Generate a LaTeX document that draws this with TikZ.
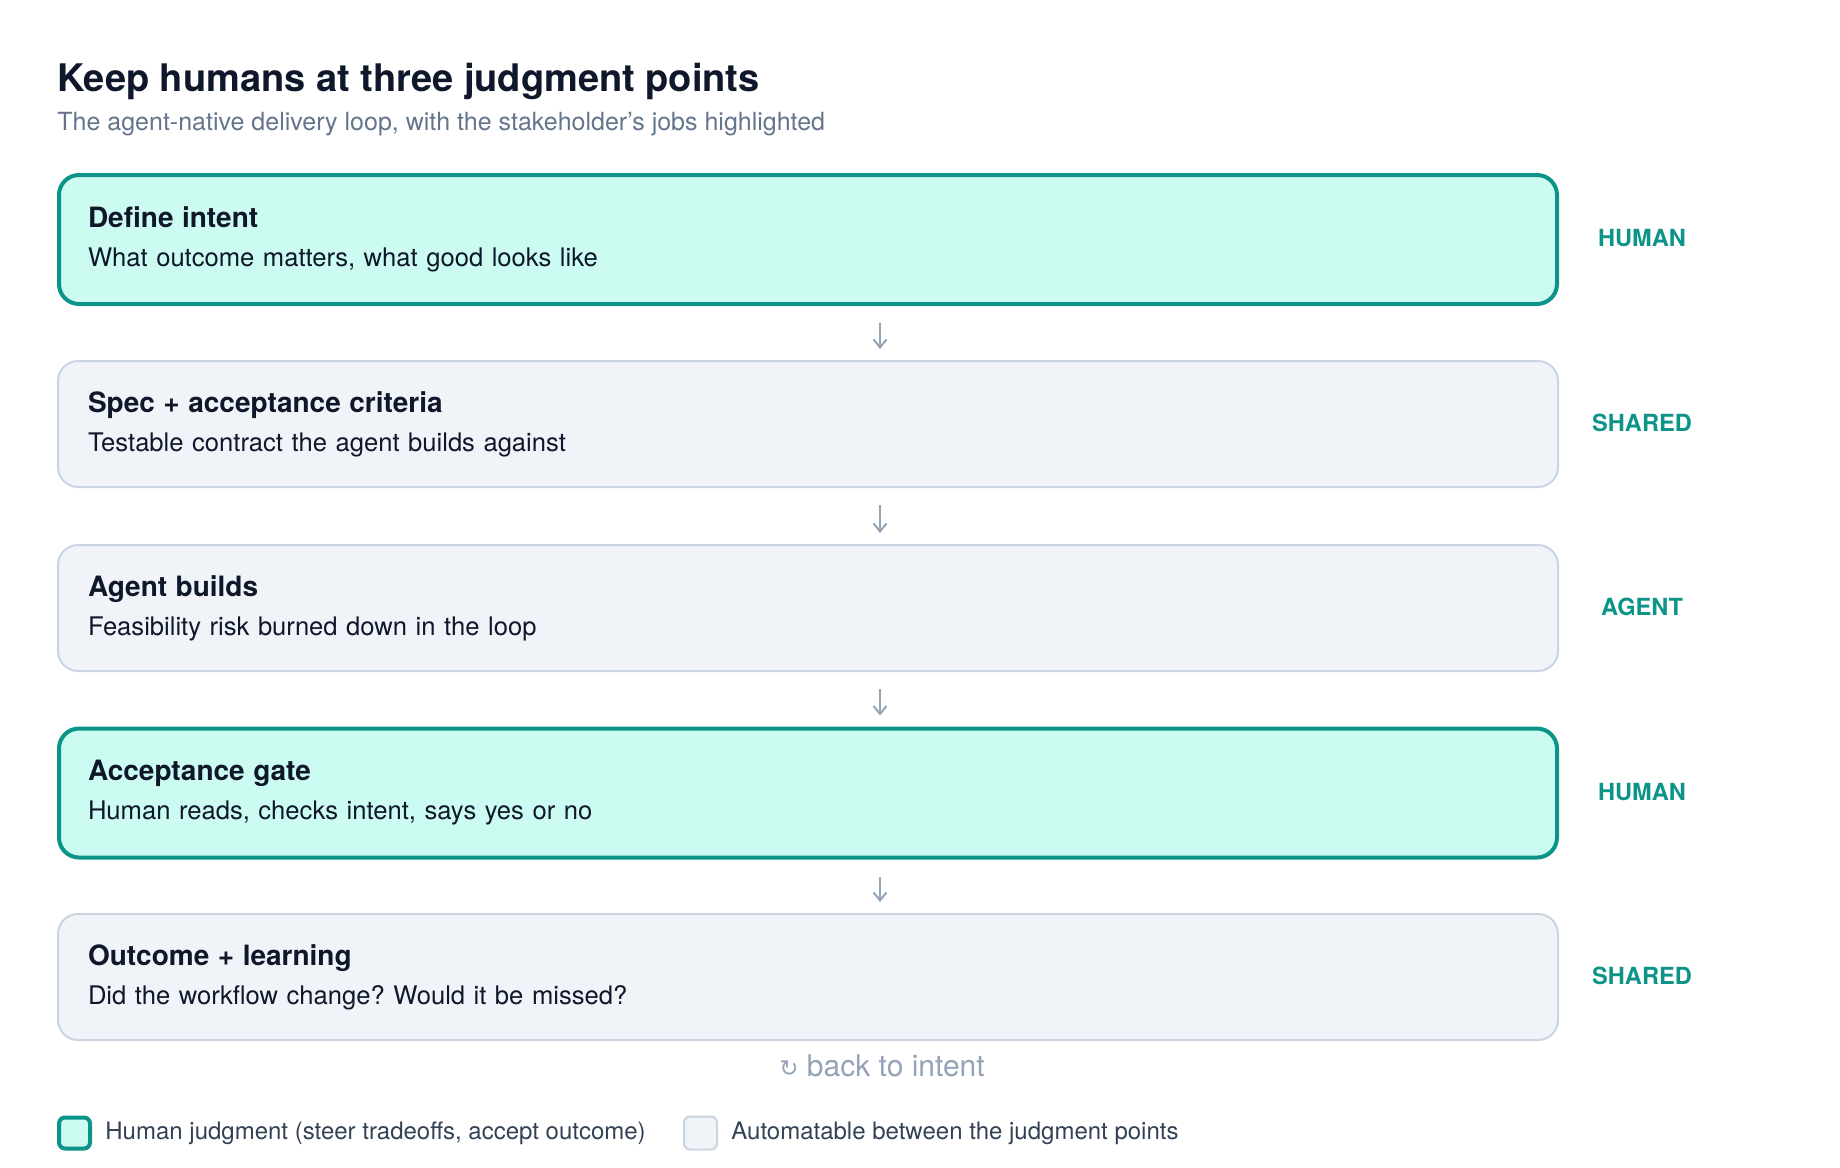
\documentclass[tikz,border=0pt]{standalone}
\usepackage{fontspec}
\setmainfont{TeX Gyre Heros}
\newfontfamily\glyphfont{DejaVu Sans}
\usetikzlibrary{positioning,arrows.meta}

\definecolor{judgeteal}{HTML}{0D9488}
\definecolor{judgefill}{HTML}{CCFBF1}
\definecolor{autofill}{HTML}{F0F4F9}
\definecolor{autoline}{HTML}{CBD5E1}
\definecolor{inkdark}{HTML}{0F172A}
\definecolor{inkgrey}{HTML}{64748B}
\definecolor{flowgrey}{HTML}{94A3B8}
\definecolor{legendink}{HTML}{334155}

\newcommand{\stagehead}[1]{{\bfseries\fontsize{14pt}{19.5pt}\selectfont #1}}

\begin{document}
\frenchspacing
\begin{tikzpicture}[x=0.5pt,y=-0.5pt,
    stagebox/.style={rounded corners=10pt, minimum width=750pt,
        text width=720pt, inner xsep=14.5pt, inner ysep=0pt, align=left, text=inkdark,
        font=\fontsize{12.8pt}{19.5pt}\selectfont},
    humanbox/.style={stagebox, draw=judgeteal, line width=2pt, fill=judgefill,
        minimum width=749pt, minimum height=64.5pt},
    autobox/.style={stagebox, draw=autoline, line width=1pt, fill=autofill, minimum height=63pt},
    tag/.style={text=judgeteal, font=\bfseries\fontsize{11.8pt}{14pt}\selectfont},
    flowarrow/.style={draw=flowgrey, line width=1pt, -{Straight Barb[length=4pt,width=6.5pt]},
        shorten <=8.5pt, shorten >=5.5pt},
    legkey/.style={rounded corners=3pt, inner sep=0pt},
    legtext/.style={text=legendink, font=\fontsize{12pt}{14pt}\selectfont, inner sep=0pt}]
    % page frame
    \useasboundingbox (0,0) rectangle (1840,1167);

    % heading
    \node[anchor=base west, inner sep=0pt, text=inkdark, font=\bfseries\fontsize{19pt}{23pt}\selectfont]
        (title) at (57,91) {Keep humans at three judgment points};
    \node[anchor=base west, inner sep=0pt, text=inkgrey, font=\fontsize{12.5pt}{15pt}\selectfont]
        (subtitle) at (57,130) {The agent-native delivery loop, with the stakeholder's jobs highlighted};

    % the loop
    \node[humanbox] (intent) at (808,239.5) {\stagehead{Define intent}\\What outcome matters, what good looks like};
    \node[autobox] (spec) at (808,424) {\stagehead{Spec + acceptance criteria}\\Testable contract the agent builds against};
    \node[autobox] (build) at (808,608) {\stagehead{Agent builds}\\Feasibility risk burned down in the loop};
    \node[humanbox] (gate) at (808,793) {\stagehead{Acceptance gate}\\Human reads, checks intent, says yes or no};
    \node[autobox] (outcome) at (808,977) {\stagehead{Outcome + learning}\\Did the workflow change? Would it be missed?};

    % who owns each step
    \node[tag] (tagintent) at (1642,238) {HUMAN};
    \node[tag] (tagspec) at (1642,423) {SHARED};
    \node[tag] (tagbuild) at (1642,607) {AGENT};
    \node[tag] (taggate) at (1642,792) {HUMAN};
    \node[tag] (tagoutcome) at (1642,976) {SHARED};

    % arrows down the middle
    \coordinate (spine) at (880,0);
    \foreach \a/\b in {intent/spec, spec/build, build/gate, gate/outcome}
        \draw[flowarrow] (\a.south -| spine) -- (\b.north -| spine);

    \node[text=flowgrey, font=\fontsize{15pt}{18pt}\selectfont] (back) at (882,1066)
        {{\glyphfont\fontsize{11.5pt}{12pt}\selectfont ↻} back to intent};

    % legend
    \node[legkey, draw=judgeteal, line width=2pt, fill=judgefill, minimum size=15.5pt] (keyhuman) at (74.5,1133) {};
    \node[legtext, right=6.5pt of keyhuman] (texthuman) {Human judgment (steer tradeoffs, accept outcome)};
    \node[legkey, draw=autoline, line width=1pt, fill=autofill, minimum size=16.5pt] (keyauto) at (700.5,1133) {};
    \node[legtext, right=6.5pt of keyauto] (textauto) {Automatable between the judgment points};
\end{tikzpicture}
\end{document}
